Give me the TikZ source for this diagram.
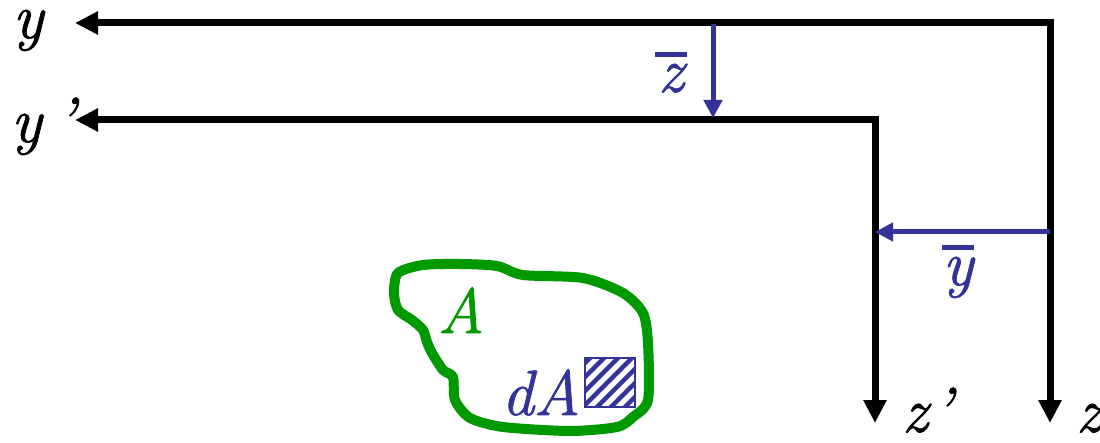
\documentclass[tikz,border=0pt]{standalone}
\usepackage{fontspec}
\newfontfamily\lblfont{Latin Modern Roman}[FakeBold=1.2]
\usetikzlibrary{arrows.meta}
\definecolor{axblue}{RGB}{51,51,153}
\definecolor{areagreen}{RGB}{0,153,0}
\begin{document}
\begin{tikzpicture}[x=1pt,y=-1pt,
  axis/.style={line width=7pt, line join=miter,
    {Triangle[length=23pt,width=22pt]}-{Triangle[length=23pt,width=22pt]}},
  offs/.style={axblue, line width=5pt, -{Triangle[length=18pt,width=18pt]}},
  lbl/.style={font=\lblfont\fontsize{64}{66}\selectfont\itshape, inner sep=0pt, anchor=base},
  bar/.style={axblue, line width=5pt},
]
\useasboundingbox (0,0) rectangle (1100,443);
\clip (0,0) rectangle (1100,443);
% axes
\coordinate (O) at (1050,23);
\coordinate (yend) at (75,23);
\coordinate (zend) at (1050,423);
\coordinate (Op) at (875,120);
\coordinate (ypend) at (75,120);
\coordinate (zpend) at (875,423);
\draw[axis] (yend) -- (O) -- (zend);
\draw[axis] (ypend) -- (Op) -- (zpend);
% offsets
\coordinate (zb1) at (713,24);
\coordinate (zb2) at (713,118);
\draw[offs] (zb1) -- (zb2);
\coordinate (yb1) at (1050,232);
\coordinate (yb2) at (875,232);
\draw[offs] (yb1) -- (yb2);
% axis labels
\node[lbl] (ly) at (28,38) {y};
\node[lbl, anchor=base west] (lyp) at (11,142) {y\hspace{14pt}’};
\node[lbl, anchor=base west] (lzp) at (902,432) {z\hspace{5pt}’};
\node[lbl, anchor=base west] (lz) at (1076,432) {z};
% bar labels
\node[lbl, text=axblue] (zbar) at (671,92) {z};
\draw[bar] ([xshift=-16pt,yshift=9pt]zbar.north) -- ([xshift=16pt,yshift=9pt]zbar.north);
\node[lbl, text=axblue] (ybar) at (958,285) {y};
\draw[bar] ([xshift=-16pt,yshift=9pt]ybar.north) -- ([xshift=16pt,yshift=9pt]ybar.north);
% area
\draw[areagreen, line width=10pt, line join=round]
  plot[smooth cycle, tension=0.45] coordinates {
  (398,273) (423,265) (460,264) (497,266) (523,275) (583,278) (623,293)
  (643,313) (648,343) (648,400) (633,417) (617,427) (570,431) (503,427)
  (470,418) (455,400) (453,377) (443,370) (432,353) (427,342) (423,330)
  (412,320) (398,310) (394,293)};
\node[lbl, text=areagreen] (lA) at (461,333) {A};
\node[lbl, text=axblue] (ldA) at (541,415) {dA};
% dA element
\begin{scope}
  \clip (585,358) rectangle (635,407);
  \foreach \i in {-63,-49,...,63}
    \draw[axblue, line width=4.5pt] (585+\i,412) -- ++(60,-60);
\end{scope}
\node[draw=axblue, line width=1.5pt, minimum width=50pt, minimum height=49pt, inner sep=0pt] (dAbox) at (610,382.5) {};
\end{tikzpicture}
\end{document}
